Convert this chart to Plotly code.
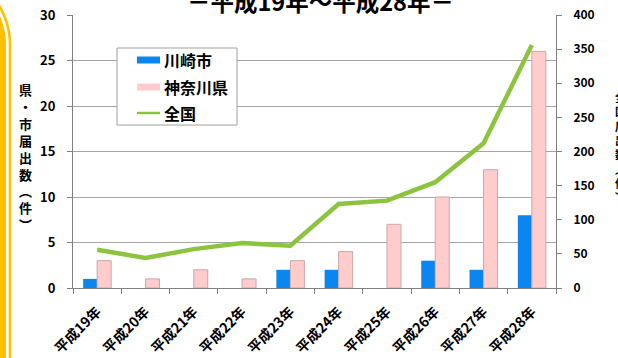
import numpy as np
import plotly.graph_objects as go

# ---------------- data ----------------
categories = ["平成19年", "平成20年", "平成21年", "平成22年", "平成23年",
              "平成24年", "平成25年", "平成26年", "平成27年", "平成28年"]
kawasaki = [1, 0, 0, 0, 2, 2, 0, 3, 2, 8]
kanagawa = [3, 1, 2, 1, 3, 4, 7, 10, 13, 26]
national = [56, 44, 57, 66, 62, 123, 128, 155, 212, 356]
left_ticks = [0, 5, 10, 15, 20, 25, 30]
right_ticks = [0, 50, 100, 150, 200, 250, 300, 350, 400]
series_names = ["川崎市", "神奈川県", "全国"]
series_colors = ["#0A86EE", "#FFCCCC", "#8CC43F"]

title_text = "－平成19年～平成28年－"
left_title = ["県", "・", "市", "届", "出", "数", "︵", "件", "︶"]
right_title = ["全", "国", "届", "出", "数", "︵", "件", "︶"]

# ---------------- layout constants (pixels) ----------------
W, H = 618, 358
L, R, T, B = 73, 62, 15, 70
PW, PH = W - L - R, H - T - B
FONT = "Noto Sans CJK JP"


def px(x):
    return (x - L) / PW


def py(y):
    return (H - B - y) / PH


fig = go.Figure()
fig.add_trace(go.Bar(
    x=categories, y=kawasaki, name=series_names[0],
    marker=dict(color=series_colors[0], line=dict(width=0)),
))
fig.add_trace(go.Bar(
    x=categories, y=kanagawa, name=series_names[1],
    marker=dict(color=series_colors[1], line=dict(color="#C8A9A9", width=1)),
))
fig.add_trace(go.Scatter(
    x=categories, y=national, name=series_names[2], yaxis="y2",
    mode="lines", line=dict(color=series_colors[2], width=4.5),
))

shapes = []
annotations = []

# ---------- decorative orange frame on the left ----------
Ro = 72.5
ys = np.linspace(45, 12, 25)
xs = 6 - Ro + np.sqrt(np.maximum(Ro ** 2 - (45 - ys) ** 2, 0))
pts = [(-6, H + 2), (6, H + 2)] + list(zip(xs, ys)) + [(-6, 12)]
path = "M " + " L ".join(f"{px(a):.5f},{py(b):.5f}" for a, b in pts) + " Z"
shapes.append(dict(type="path", xref="paper", yref="paper", path=path,
                   fillcolor="#FFC000", line=dict(width=0), layer="above"))
Ri = 76.5
ys2 = np.linspace(45, 4, 30)
xs2 = 10 - Ri + np.sqrt(np.maximum(Ri ** 2 - (45 - ys2) ** 2, 0))
pts2 = [(10, H + 2)] + list(zip(xs2, ys2))
path2 = "M " + " L ".join(f"{px(a):.5f},{py(b):.5f}" for a, b in pts2)
shapes.append(dict(type="path", xref="paper", yref="paper", path=path2,
                   line=dict(color="#FFC000", width=2.6), layer="above"))

# ---------- legend (drawn as a boxed key) ----------
shapes.append(dict(type="rect", xref="paper", yref="paper",
                   x0=px(117), x1=px(237), y0=py(125), y1=py(48),
                   fillcolor="#FFFFFF", line=dict(color="#A0A0A0", width=1),
                   layer="above"))
row_y = [60, 87, 113]
for i, (nm, col) in enumerate(zip(series_names, series_colors)):
    yc = row_y[i]
    if i < 2:
        shapes.append(dict(type="rect", xref="paper", yref="paper",
                           x0=px(137), x1=px(160), y0=py(yc + 3.5), y1=py(yc - 3.5),
                           fillcolor=col, line=dict(width=0), layer="above"))
    else:
        shapes.append(dict(type="line", xref="paper", yref="paper",
                           x0=px(137), x1=px(160), y0=py(yc), y1=py(yc),
                           line=dict(color=col, width=2.5), layer="above"))
    annotations.append(dict(text=nm, xref="paper", yref="paper",
                            x=px(162), y=py(yc), xanchor="left", yanchor="middle",
                            showarrow=False,
                            font=dict(family=FONT, size=16, color="#000000",
                                      weight="bold")))

annotations += [
    dict(text=title_text, xref="paper", yref="paper", x=px(320), y=py(19.5),
         xanchor="center", yanchor="bottom", showarrow=False,
         font=dict(family=FONT, size=23.5, color="#000000", weight="bold")),
    dict(text="<br>".join(left_title), xref="paper", yref="paper",
         x=px(25), y=py(157), xanchor="center", yanchor="middle", showarrow=False,
         font=dict(family=FONT, size=13, color="#000000", weight="bold")),
    dict(text="<br>".join(right_title), xref="paper", yref="paper",
         x=px(620), y=py(147), xanchor="center", yanchor="middle", showarrow=False,
         font=dict(family=FONT, size=11, color="#000000", weight="bold")),
]

fig.update_layout(
    width=W, height=H,
    margin=dict(l=L, r=R, t=T, b=B, pad=0, autoexpand=False),
    paper_bgcolor="#FFFFFF", plot_bgcolor="#FFFFFF",
    font=dict(family=FONT, size=12, color="#000000", weight="bold"),
    barmode="group", bargap=0.42, bargroupgap=0,
    showlegend=False,
    xaxis=dict(
        type="category", tickangle=-45, tickson="boundaries", automargin=False,
        ticks="outside", ticklen=5, tickcolor="#808080",
        showline=True, linecolor="#808080", linewidth=1,
        showgrid=False, tickfont=dict(family=FONT, size=14, weight="bold"),
        ticklabelstandoff=9,
    ),
    yaxis=dict(
        range=[0, 30], tickvals=left_ticks, ticks="outside", ticklen=5,
        automargin=False,
        tickcolor="#808080", showline=True, linecolor="#808080",
        showgrid=True, gridcolor="#A6A6A6", gridwidth=1, zeroline=False,
        tickfont=dict(family=FONT, size=13, weight="bold"),
        ticklabelstandoff=9,
    ),
    yaxis2=dict(
        range=[0, 400], tickvals=right_ticks, overlaying="y", side="right",
        automargin=False,
        ticks="outside", ticklen=5, tickcolor="#808080", showline=True,
        linecolor="#808080", showgrid=False, zeroline=False,
        tickfont=dict(family=FONT, size=12, weight="bold"),
        ticklabelstandoff=9,
    ),
    shapes=shapes,
    annotations=annotations,
)

fig.write_html("out.html")
